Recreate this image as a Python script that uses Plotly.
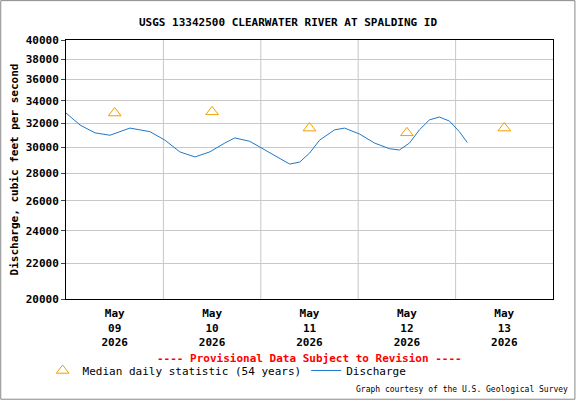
import plotly.graph_objects as go

times = ["2026-05-09 00:00","2026-05-09 03:27","2026-05-09 07:08","2026-05-09 10:50","2026-05-09 15:45","2026-05-09 20:40",
         "2026-05-10 00:22","2026-05-10 04:03","2026-05-10 07:45","2026-05-10 11:26","2026-05-10 15:08","2026-05-10 17:35",
         "2026-05-10 21:17","2026-05-11 00:58","2026-05-11 04:40","2026-05-11 07:07","2026-05-11 09:35","2026-05-11 12:02",
         "2026-05-11 14:30","2026-05-11 18:11","2026-05-11 20:38","2026-05-12 00:20","2026-05-12 04:01","2026-05-12 07:43",
         "2026-05-12 10:10","2026-05-12 12:38","2026-05-12 15:05","2026-05-12 17:33","2026-05-12 20:00","2026-05-12 22:28",
         "2026-05-13 00:55","2026-05-13 02:53"]
discharge = [32900,31860,31200,31000,31600,31300,30600,29650,29250,29650,30360,30780,30500,29800,29160,28700,28850,29560,
             30600,31450,31600,31100,30360,29900,29800,30360,31450,32300,32550,32200,31300,30400]
median_times = ["2026-05-09 12:00","2026-05-10 12:00","2026-05-11 12:00","2026-05-12 12:00","2026-05-13 12:00"]
median_vals = [32900,33000,31600,31200,31600]
ytick_vals = [20000,22000,24000,26000,28000,30000,32000,34000,36000,38000,40000]
xtick_vals = median_times
xtick_text = ["May<br>09<br>2026","May<br>10<br>2026","May<br>11<br>2026","May<br>12<br>2026","May<br>13<br>2026"]

mono = "DejaVu Sans Mono"
fig = go.Figure()
fig.add_trace(go.Scatter(x=median_times, y=median_vals, mode="markers", name="Median daily statistic (54 years)",
                         marker=dict(symbol="triangle-up-open", size=11, color="#f0a000", line=dict(width=1))))
fig.add_trace(go.Scatter(x=times, y=discharge, mode="lines", name="Discharge", line=dict(color="#1f78c8", width=1)))

for d in ["2026-05-10","2026-05-11","2026-05-12","2026-05-13"]:
    fig.add_vline(x=d, line=dict(color="#c8c8c8", width=1), layer="below")

fig.update_layout(
    width=576, height=400, margin=dict(l=66, r=23, t=40, b=101),
    paper_bgcolor="white", plot_bgcolor="white",
    font=dict(family=mono, size=10, color="black"),
    title=dict(text="<b>USGS 13342500 CLEARWATER RIVER AT SPALDING ID</b>", x=0.5, xanchor="center", y=0.955,
               font=dict(family=mono, size=11)),
    xaxis=dict(range=["2026-05-09 00:00","2026-05-14 00:00"], tickvals=xtick_vals,
               ticktext=["<b>"+t+"</b>" for t in xtick_text], showgrid=False, showline=True, mirror=True,
               linecolor="black", ticks="", zeroline=False, tickfont=dict(size=11), ticklabelstandoff=4),
    yaxis=dict(type="log", range=[4.30103, 4.60206], tickvals=ytick_vals,
               ticktext=["<b>%d</b>" % v for v in ytick_vals], showgrid=True, gridcolor="#c8c8c8",
               showline=True, mirror=True, linecolor="black", ticks="outside", ticklen=4, tickfont=dict(size=11),
               title=dict(text="<b>Discharge, cubic feet per second</b>", standoff=4, font=dict(family=mono, size=11))),
    legend=dict(orientation="h", x=-0.048, y=-0.22, xanchor="left", yanchor="top", font=dict(family=mono, size=11),
                bgcolor="rgba(0,0,0,0)", itemwidth=30),
    showlegend=True,
)
fig.add_annotation(text="<b>---- Provisional Data Subject to Revision ----</b>", xref="paper", yref="paper",
                   x=0.5, y=-0.23, yanchor="middle", showarrow=False, font=dict(family=mono, size=11, color="red"))
fig.add_annotation(text="Graph courtesy of the U.S. Geological Survey", xref="paper", yref="paper",
                   x=1.035, y=-0.35, xanchor="right", yanchor="middle", showarrow=False, font=dict(family=mono, size=8))
fig.add_shape(type="rect", xref="paper", yref="paper", x0=-0.134, x1=1.045, y0=-0.387, y1=1.152,
              line=dict(color="#888888", width=1))
fig.write_html("out.html", config={"displayModeBar": False},
               post_script="document.body.style.margin='0';document.body.style.overflow='hidden';")
